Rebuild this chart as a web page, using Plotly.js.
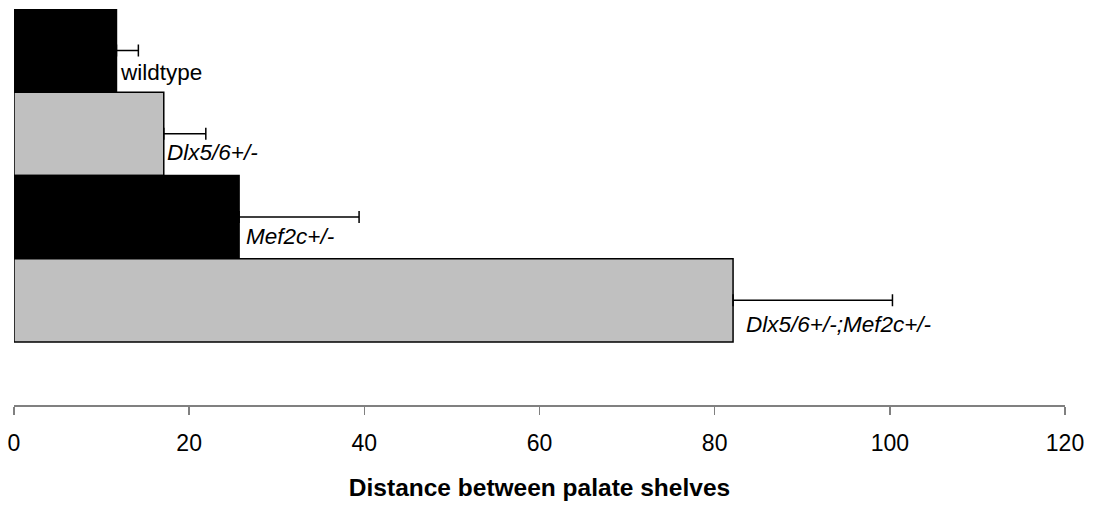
<!DOCTYPE html>
<html>
<head>
<meta charset="utf-8">
<script src="https://cdn.plot.ly/plotly-3.0.1.min.js"></script>
<style>html,body{margin:0;padding:0;background:#fff;}#chart{width:1097px;height:506px;}</style>
</head>
<body>
<div id="chart"></div>
<script>
// Data
var categories = ["wildtype", "Dlx5/6+/-", "Mef2c+/-", "Dlx5/6+/-;Mef2c+/-"];
var labelsHtml = ["wildtype", "<i>Dlx5/6+/-</i>", "<i>Mef2c+/-</i>", "<i>Dlx5/6+/-;Mef2c+/-</i>"];
var values = [11.7, 17.1, 25.7, 82.1];
var errorsPlus = [2.5, 4.8, 13.7, 18.2];
var errorsMinus = [0, 0, 0, 0];
var xTicks = [0, 20, 40, 60, 80, 100, 120];

// Styles
var barColors = ["#000000", "#c0c0c0", "#000000", "#c0c0c0"];
var labelYShift = [-22, -19, -19, -24];
var labelXShift = [2, 1, 5, 11];

var trace = {
  type: "bar",
  orientation: "h",
  y: categories,
  x: values,
  width: 1,
  marker: {color: barColors, line: {color: "#000000", width: 1.5}},
  error_x: {
    type: "data",
    symmetric: false,
    array: errorsPlus,
    arrayminus: errorsMinus,
    color: "#000000",
    thickness: 1.5,
    width: 6
  },
  hoverinfo: "none"
};

var annotations = categories.map(function (c, i) {
  return {
    x: values[i],
    y: c,
    xref: "x",
    yref: "y",
    text: labelsHtml[i],
    showarrow: false,
    xanchor: "left",
    yanchor: "middle",
    xshift: labelXShift[i],
    yshift: labelYShift[i],
    font: {family: "Liberation Sans, Arial, sans-serif", size: 22.5, color: "#000000"}
  };
});

var layout = {
  width: 1097,
  height: 506,
  margin: {l: 14, r: 32, t: 9, b: 101},
  paper_bgcolor: "#ffffff",
  plot_bgcolor: "#ffffff",
  showlegend: false,
  bargap: 0,
  font: {family: "Liberation Sans, Arial, sans-serif", color: "#000000"},
  xaxis: {
    range: [0, 120],
    tickvals: xTicks,
    ticktext: xTicks.map(String),
    ticks: "outside",
    ticklen: 8,
    tickwidth: 1.5,
    tickcolor: "#808080",
    showline: true,
    linecolor: "#808080",
    linewidth: 1.5,
    showgrid: false,
    zeroline: false,
    tickfont: {size: 23, color: "#000000"},
    ticklabelstandoff: 9,
    title: {
      text: "Distance between palate shelves",
      font: {size: 24.5, weight: "bold", color: "#000000"},
      standoff: 24
    },
    fixedrange: true
  },
  yaxis: {
    type: "category",
    categoryorder: "array",
    categoryarray: categories,
    range: [4.257, -0.5],
    showticklabels: false,
    ticks: "",
    showline: false,
    showgrid: false,
    zeroline: false,
    fixedrange: true
  },
  annotations: annotations
};

Plotly.newPlot("chart", [trace], layout, {displayModeBar: false, staticPlot: true});
</script>
</body>
</html>
